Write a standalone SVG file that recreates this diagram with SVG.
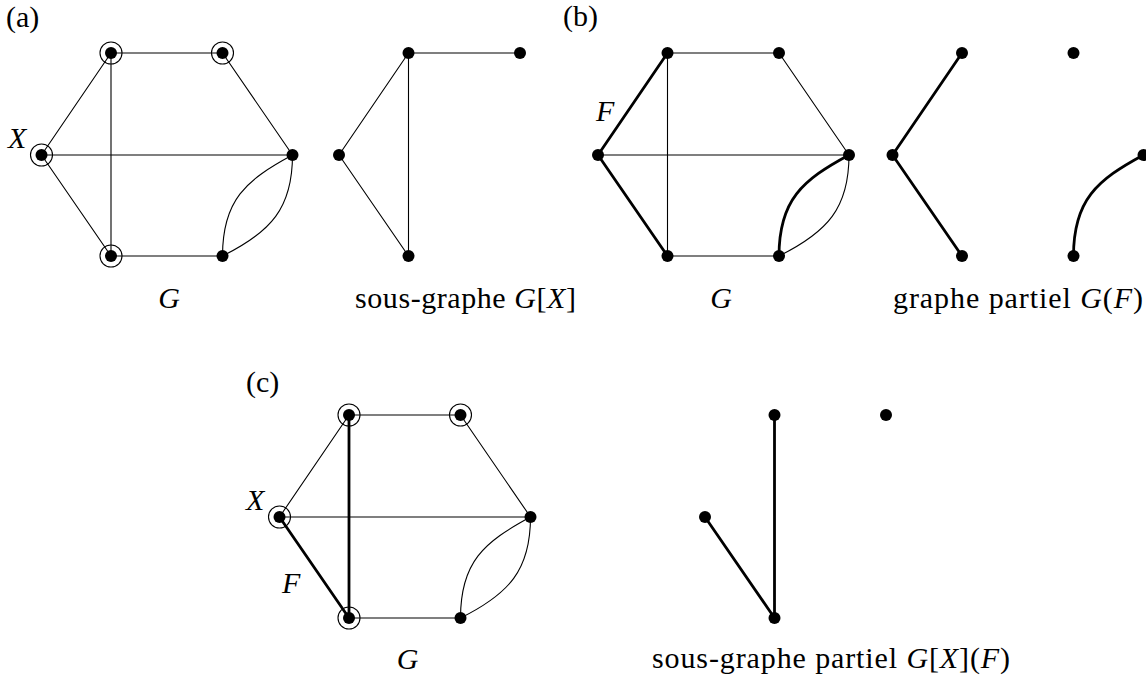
<svg xmlns="http://www.w3.org/2000/svg" width="1146" height="675" viewBox="0 0 1146 675">
<style>
  .e{fill:none;stroke:#000;stroke-width:1.1}
  .t{fill:none;stroke:#000;stroke-width:2.8;stroke-linecap:round}
  .d{fill:#000}
  .c{fill:none;stroke:#000;stroke-width:1.1}
  .i{font-style:italic}
</style>
<rect width="1146" height="675" fill="#fff"/>

<g id="connectors">
  <!-- (a) G -->
  <g transform="translate(0,0)">
    <path class="e" d="M111,53H222.5L292.5,155M41.5,155L111,53M41.5,155H292.5M41.5,155L111,256M111,53V256M111,256H222.5"/>
    <path class="e" d="M222.5,256C222.5,200 246,180 292.5,155"/>
    <path class="e" d="M222.5,256C271,232 292.5,208 292.5,155"/>
  </g>
  <!-- (a) G[X] -->
  <g transform="translate(297.5,0)">
    <path class="e" d="M41.5,155L111,53H222.5M111,53V256M41.5,155L111,256"/>
  </g>
  <!-- (b) G -->
  <g transform="translate(556.5,0)">
    <path class="e" d="M111,53H222.5L292.5,155M41.5,155H292.5M111,53V256M111,256H222.5"/>
    <path class="t" d="M41.5,155L111,53M41.5,155L111,256"/>
    <path class="t" d="M222.5,256C222.5,200 246,180 292.5,155"/>
    <path class="e" d="M222.5,256C271,232 292.5,208 292.5,155"/>
  </g>
  <!-- (b) G(F) -->
  <g transform="translate(851,0)">
    <path class="t" d="M41.5,155L111,53M41.5,155L111,256"/>
    <path class="t" d="M222.5,256C222.5,200 246,180 292.5,155"/>
  </g>
  <!-- (c) G -->
  <g transform="translate(238,362)">
    <path class="e" d="M111,53H222.5L292.5,155M41.5,155L111,53M41.5,155H292.5M111,256H222.5"/>
    <path class="t" d="M41.5,155L111,256M111,53V256"/>
    <path class="e" d="M222.5,256C222.5,200 246,180 292.5,155"/>
    <path class="e" d="M222.5,256C271,232 292.5,208 292.5,155"/>
  </g>
  <!-- (c) G[X](F) -->
  <g transform="translate(663.5,362)">
    <path class="t" d="M41.5,155L111,256M111,53V256"/>
  </g>
</g>

<!-- (a) G nodes -->
<g id="a-G-nodes">
  <g id="a-TL"><circle class="c" cx="111" cy="53" r="11"/><circle class="d" cx="111" cy="53" r="6"/></g>
  <g id="a-TR"><circle class="c" cx="222.5" cy="53" r="11"/><circle class="d" cx="222.5" cy="53" r="6"/></g>
  <g id="a-L"><circle class="c" cx="41.5" cy="155" r="11"/><circle class="d" cx="41.5" cy="155" r="6"/></g>
  <g id="a-R"><circle class="d" cx="292.5" cy="155" r="6"/></g>
  <g id="a-BL"><circle class="c" cx="111" cy="256" r="11"/><circle class="d" cx="111" cy="256" r="6"/></g>
  <g id="a-BR"><circle class="d" cx="222.5" cy="256" r="6"/></g>
</g>
<!-- (a) G[X] nodes -->
<g id="a-GX-nodes">
  <g id="ax-TL"><circle class="d" cx="408.5" cy="53" r="6"/></g>
  <g id="ax-TR"><circle class="d" cx="520" cy="53" r="6"/></g>
  <g id="ax-L"><circle class="d" cx="339" cy="155" r="6"/></g>
  <g id="ax-BL"><circle class="d" cx="408.5" cy="256" r="6"/></g>
</g>
<!-- (b) G nodes -->
<g id="b-G-nodes">
  <g id="b-TL"><circle class="d" cx="667.5" cy="53" r="6"/></g>
  <g id="b-TR"><circle class="d" cx="779" cy="53" r="6"/></g>
  <g id="b-L"><circle class="d" cx="598" cy="155" r="6"/></g>
  <g id="b-R"><circle class="d" cx="849" cy="155" r="6"/></g>
  <g id="b-BL"><circle class="d" cx="667.5" cy="256" r="6"/></g>
  <g id="b-BR"><circle class="d" cx="779" cy="256" r="6"/></g>
</g>
<!-- (b) G(F) nodes -->
<g id="b-GF-nodes">
  <g id="bf-TL"><circle class="d" cx="962" cy="53" r="6"/></g>
  <g id="bf-TR"><circle class="d" cx="1073.5" cy="53" r="6"/></g>
  <g id="bf-L"><circle class="d" cx="892.5" cy="155" r="6"/></g>
  <g id="bf-R"><circle class="d" cx="1143.5" cy="155" r="6"/></g>
  <g id="bf-BL"><circle class="d" cx="962" cy="256" r="6"/></g>
  <g id="bf-BR"><circle class="d" cx="1073.5" cy="256" r="6"/></g>
</g>
<!-- (c) G nodes -->
<g id="c-G-nodes">
  <g id="c-TL"><circle class="c" cx="349" cy="415" r="11"/><circle class="d" cx="349" cy="415" r="6"/></g>
  <g id="c-TR"><circle class="c" cx="460.5" cy="415" r="11"/><circle class="d" cx="460.5" cy="415" r="6"/></g>
  <g id="c-L"><circle class="c" cx="279.5" cy="517" r="11"/><circle class="d" cx="279.5" cy="517" r="6"/></g>
  <g id="c-R"><circle class="d" cx="530.5" cy="517" r="6"/></g>
  <g id="c-BL"><circle class="c" cx="349" cy="618" r="11"/><circle class="d" cx="349" cy="618" r="6"/></g>
  <g id="c-BR"><circle class="d" cx="460.5" cy="618" r="6"/></g>
</g>
<!-- (c) G[X](F) nodes -->
<g id="c-GXF-nodes">
  <g id="cf-TL"><circle class="d" cx="774.5" cy="415" r="6"/></g>
  <g id="cf-TR"><circle class="d" cx="886" cy="415" r="6"/></g>
  <g id="cf-L"><circle class="d" cx="705" cy="517" r="6"/></g>
  <g id="cf-BL"><circle class="d" cx="774.5" cy="618" r="6"/></g>
</g>

<g id="labels" font-family="'Liberation Serif', 'Times New Roman', serif" font-size="30" fill="#000">
  <text x="6" y="27">(a)</text>
  <text x="563" y="26">(b)</text>
  <text x="246" y="392">(c)</text>
  <text class="i" x="8" y="148">X</text>
  <text class="i" x="246" y="510">X</text>
  <text class="i" x="596" y="121">F</text>
  <text class="i" x="282" y="593">F</text>
  <text class="i" x="169" y="308" text-anchor="middle">G</text>
  <text class="i" x="721" y="308" text-anchor="middle">G</text>
  <text class="i" x="407.5" y="669" text-anchor="middle">G</text>
  <text x="355" y="308" textLength="221" lengthAdjust="spacing">sous-graphe <tspan class="i">G</tspan>[<tspan class="i">X</tspan>]</text>
  <text x="893" y="308" textLength="250" lengthAdjust="spacing">graphe partiel <tspan class="i">G</tspan>(<tspan class="i">F</tspan>)</text>
  <text x="652" y="668" textLength="358" lengthAdjust="spacing">sous-graphe partiel <tspan class="i">G</tspan>[<tspan class="i">X</tspan>](<tspan class="i">F</tspan>)</text>
</g>
</svg>
